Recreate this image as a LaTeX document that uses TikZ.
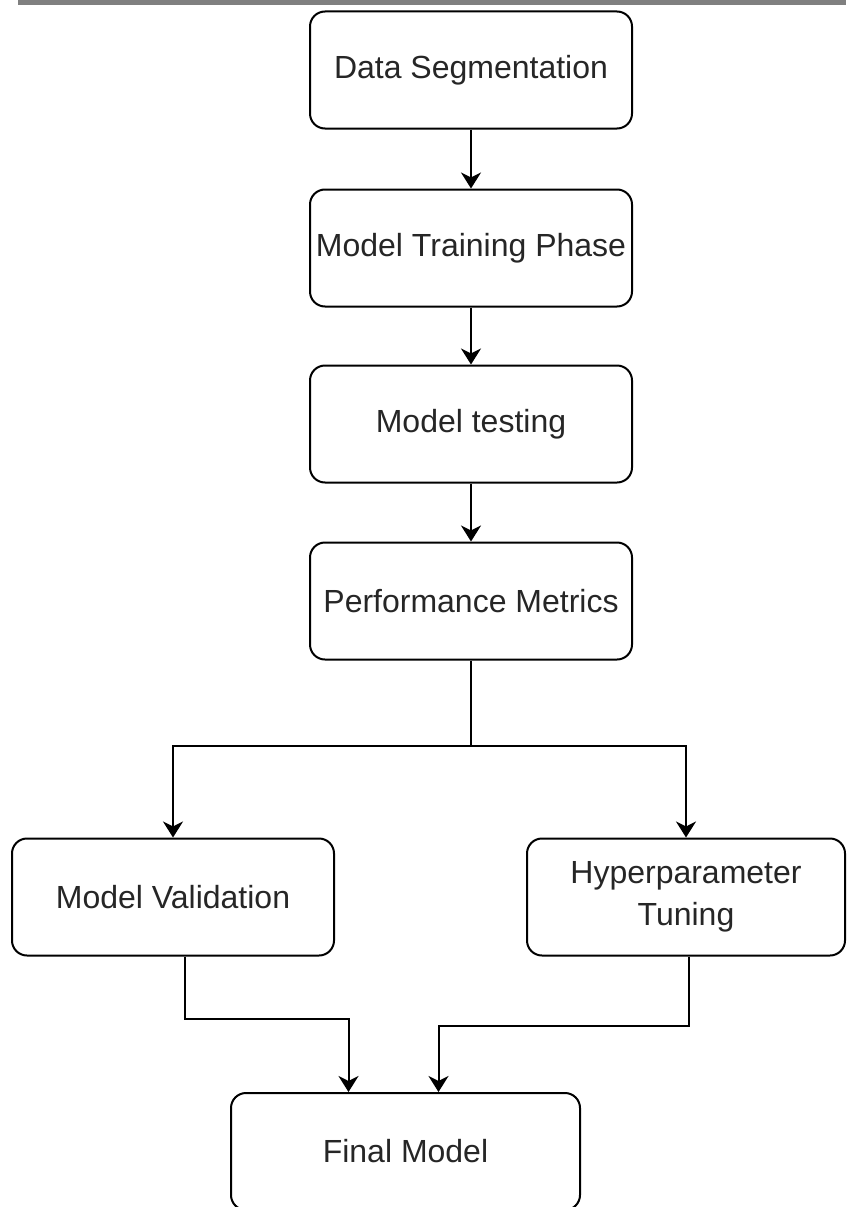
\documentclass[tikz,border=0pt]{standalone}
\usepackage{fontspec}
\setmainfont{Liberation Sans}
\usetikzlibrary{arrows.meta}

\begin{document}
\begin{tikzpicture}[x=1pt,y=-1pt,
  stage/.style={draw,line width=2pt,rounded corners=15pt,minimum width=322pt,
    minimum height=117pt,align=center,text=black!85,font=\fontsize{32}{42}\selectfont},
  arr/.style={line width=2pt,-{Stealth[length=16pt,width=20pt,inset=5pt]}}]
  \useasboundingbox (0,0) rectangle (846,1207);
  \fill[gray] (18,0) rectangle (846,5);

  \node[stage] (seg) at (471,70) {Data Segmentation};
  \node[stage] (train) at (471,248) {Model Training Phase};
  \node[stage] (test) at (471,424) {Model testing};
  \node[stage] (perf) at (471,601) {Performance Metrics};
  \node[stage] (val) at (173,897) {Model Validation};
  \node[stage,minimum width=318pt] (hyp) at (686,897) {Hyperparameter\\Tuning};
  \node[stage,minimum width=349pt] (final) at (405.5,1151.5) {Final Model};

  \draw[arr] (seg) -- (train);
  \draw[arr] (train) -- (test);
  \draw[arr] (test) -- (perf);
  \draw[line width=2pt] (perf.south) -- ++(0,85) coordinate (split);
  \draw[arr] (split) -| (val.north);
  \draw[arr] (split) -| (hyp.north);
  \draw[arr] ([xshift=12pt]val.south) -- ++(0,62) -| ([xshift=-57pt]final.north);
  \draw[arr] ([xshift=3pt]hyp.south) -- ++(0,69) -| ([xshift=33pt]final.north);
\end{tikzpicture}
\end{document}
